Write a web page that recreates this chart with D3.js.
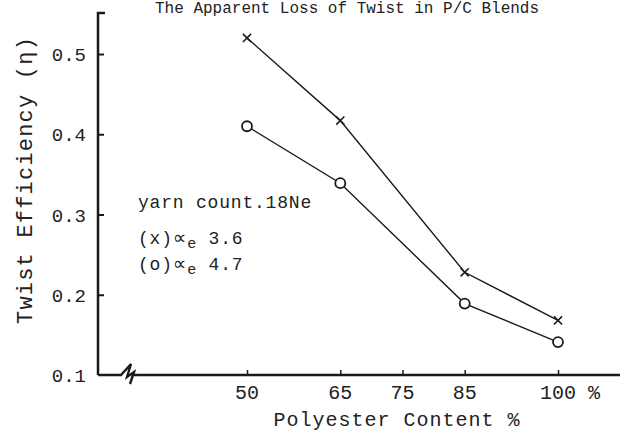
<!DOCTYPE html>
<html>
<head>
<meta charset="utf-8">
<script src="https://cdn.jsdelivr.net/npm/d3@7"></script>
<style>
  body { margin: 0; background: #fff; }
  svg { display: block; }
  text { font-family: "Liberation Mono", "DejaVu Sans Mono", monospace; fill: #222; }
</style>
</head>
<body>
<svg id="chart" width="620" height="432"></svg>
<script>
// data
var polyester = [50, 65, 85, 100];
var crossSeries = [0.52, 0.417, 0.228, 0.168];   // (x) alpha_e 3.6
var circleSeries = [0.41, 0.339, 0.189, 0.141];  // (o) alpha_e 4.7
var xTicks = [50, 65, 75, 85, 100];
var yTicks = [0.1, 0.2, 0.3, 0.4, 0.5];
var legendLines = ["yarn count.18Ne"];

var svg = d3.select("#chart");

var x = d3.scaleLinear().domain([50, 100]).range([247, 558]);
var y = d3.scaleLinear().domain([0.1, 0.5]).range([375, 54]);

var ink = "#1a1a1a";

// title (sits at the very top edge of the scan)
svg.append("text")
	.attr("x", 155)
	.attr("y", 13)
	.style("font-size", "16px")
	.text("The Apparent Loss of Twist in P/C Blends");

// y axis
var yAxis = svg.append("g").attr("transform", "translate(98,0)")
	.call(d3.axisRight(y).tickValues(yTicks.slice(1)).tickSize(6).tickFormat(""));
yAxis.select(".domain").remove();
yAxis.selectAll("line").attr("stroke", ink).attr("stroke-width", 2);

svg.append("path")
	.attr("d", "M105,13 H98 V375")
	.attr("fill", "none")
	.attr("stroke", ink)
	.attr("stroke-width", 2.5);

yTicks.forEach(function(t) {
	svg.append("text")
		.attr("x", 86)
		.attr("y", y(t) + 7)
		.attr("text-anchor", "end")
		.style("font-size", "19px")
		.text(t.toFixed(1));
});

// x axis with break mark
svg.append("path")
	.attr("d", "M98,375 H121 L131,364 L127,377 L134,372 L130,384 M134,375 H620")
	.attr("fill", "none")
	.attr("stroke", ink)
	.attr("stroke-width", 2.4);

var xAxis = svg.append("g").attr("transform", "translate(0,375)")
	.call(d3.axisTop(x).tickValues(xTicks).tickSize(5).tickFormat(""));
xAxis.select(".domain").remove();
xAxis.selectAll("line").attr("stroke", ink).attr("stroke-width", 1.5);

xTicks.forEach(function(t) {
	svg.append("text")
		.attr("x", x(t))
		.attr("y", 399)
		.attr("text-anchor", "middle")
		.style("font-size", "20px")
		.text(t);
});
svg.append("text")
	.attr("x", x(100) + 36)
	.attr("y", 399)
	.attr("text-anchor", "middle")
	.style("font-size", "20px")
	.text("%");

svg.append("text")
	.attr("x", 397)
	.attr("y", 426)
	.attr("text-anchor", "middle")
	.style("font-size", "20px")
	.style("letter-spacing", "1px")
	.text("Polyester Content %");

svg.append("text")
	.attr("transform", "translate(32,180) rotate(-90)")
	.attr("text-anchor", "middle")
	.style("font-size", "22px")
	.style("letter-spacing", "1.2px")
	.text("Twist Efficiency (η)");

// lines
var line = d3.line()
	.x(function(d, i) { return x(polyester[i]); })
	.y(function(d) { return y(d); });

[crossSeries, circleSeries].forEach(function(s) {
	svg.append("path")
		.datum(s)
		.attr("d", line)
		.attr("fill", "none")
		.attr("stroke", ink)
		.attr("stroke-width", 1.4);
});

// markers
var cross = d3.symbol().type(d3.symbolX).size(45);
svg.selectAll(".cross").data(crossSeries).enter()
	.append("path")
	.attr("class", "cross")
	.attr("transform", function(d, i) { return "translate(" + x(polyester[i]) + "," + y(d) + ")"; })
	.attr("d", cross)
	.attr("fill", "none")
	.attr("stroke", ink)
	.attr("stroke-width", 1.6);

svg.selectAll(".circ").data(circleSeries).enter()
	.append("circle")
	.attr("class", "circ")
	.attr("cx", function(d, i) { return x(polyester[i]); })
	.attr("cy", function(d) { return y(d); })
	.attr("r", 5)
	.attr("fill", "#fff")
	.attr("stroke", ink)
	.attr("stroke-width", 1.8);

// legend / annotation
var note = svg.append("g").style("font-size", "18px").style("letter-spacing", "0.8px");
note.append("text").attr("x", 138).attr("y", 208).text(legendLines[0]);

var rows = [["(x)", "3.6", 244], ["(o)", "4.7", 270]];
rows.forEach(function(r) {
	var t = note.append("text").attr("x", 138).attr("y", r[2]);
	t.append("tspan").text(r[0]);
	t.append("tspan").style("font-size", "19px").style("font-family", "DejaVu Sans").text("∝");
	t.append("tspan").attr("dy", 4).style("font-size", "15px").text("e");
	t.append("tspan").attr("dy", -4).text(" " + r[1]);
});
</script>
</body>
</html>
